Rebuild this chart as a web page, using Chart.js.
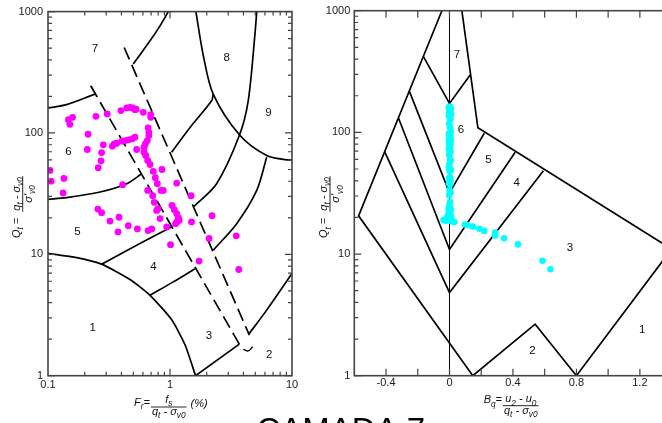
<!DOCTYPE html>
<html>
<head>
<meta charset="utf-8">
<script src="https://cdn.jsdelivr.net/npm/chart.js@4.4.1/dist/chart.umd.min.js"></script>
<style>
html, body { margin: 0; padding: 0; background: #fff; overflow: hidden; width: 662px; height: 423px; }
canvas { position: absolute; left: 0; top: 0; }
</style>
</head>
<body>
<canvas id="frChart" width="680" height="423"></canvas>
<canvas id="bqChart" width="680" height="423"></canvas>
<script>
// ---- axes ----
const frTicks = [0.1, 1, 10];
const qtTicks = [1, 10, 100, 1000];
const frMinor = [0.2, 0.3, 0.4, 0.5, 0.6, 0.7, 0.8, 0.9, 2, 3, 4, 5, 6, 7, 8, 9];
const qtMinor = [2, 3, 4, 5, 6, 7, 8, 9, 20, 30, 40, 50, 60, 70, 80, 90, 200, 300, 400, 500, 600, 700, 800, 900];
const bqTicks = [-0.4, 0, 0.4, 0.8, 1.2];
const bqMinor = [-0.2, 0.2, 0.6, 1.0];

// ---- CPT data, camada 7 ----
const frData = [0.104, 0.106, 0.135, 0.133, 0.147, 0.159, 0.151, 0.213, 0.210, 0.247,
  0.306, 0.396, 0.442, 0.470, 0.494, 0.516, 0.527, 0.604, 0.695, 0.695,
  0.661, 0.671, 0.671, 0.652, 0.628, 0.612, 0.516, 0.491, 0.458, 0.428,
  0.402, 0.366, 0.349, 0.337, 0.284, 0.275, 0.533, 0.612, 0.632, 0.656,
  0.686, 0.272, 0.258, 0.730, 0.859, 0.758, 0.787, 0.844, 0.656, 0.721,
  0.743, 0.778, 0.828, 0.881, 0.409, 1.038, 1.084, 1.135, 1.17, 1.19,
  1.14, 1.11, 0.94, 1.49, 1.50, 0.256, 0.275, 0.322, 0.382, 0.375,
  0.455, 0.540, 0.661, 0.708, 1.01, 1.73, 2.21, 2.09, 3.49, 3.66,
  0.797, 1.135];
const qtData = [49.1, 40.1, 42.2, 32.0, 128.8, 134.6, 117.9, 97.6, 73.1, 137.1,
  143.5, 152.8, 160.8, 162.5, 160.8, 155.7, 157, 148, 141.7, 134.6,
  110.2, 101.3, 95.2, 86.6, 81.3, 76.3, 92.2, 89.5, 87.8, 86.6,
  85.5, 82.3, 81.3, 77.8, 79.8, 69.0, 73.1, 69.4, 65.2, 59.3,
  55.0, 59.0, 51.7, 48.2, 50.0, 42.8, 38.2, 33.6, 33.6, 30.4,
  26.8, 23.0, 19.7, 33.6, 37.5, 25.3, 23.3, 21.6, 20.1, 19.1,
  18.5, 17.9, 16.8, 30.4, 18.5, 23.6, 22.0, 18.8, 20.2, 15.3,
  17.2, 16.2, 15.7, 16.2, 12.0, 8.8, 20.8, 13.5, 14.2, 7.5,
  23.8, 38.6];

const bqData = [0.004, -0.004, 0.008, 0.000, 0.006, -0.002, 0.004, 0.010, -0.004, 0.002,
  0.006, -0.002, 0.004, 0.008, -0.004, 0.002, 0.006, 0.000, 0.004, -0.004,
  0.008, 0.002, -0.002, 0.006, 0.000, 0.004, -0.004, 0.006, 0.002, -0.002,
  0.004, 0.008, 0.000, -0.004, 0.004, 0.008, 0.000, 0.004, -0.002, 0.006,
  0.002, -0.004, 0.004, 0.000, 0.006, -0.002, 0.004, 0.000, 0.006, -0.006,
  0.002, 0.008, -0.004, 0.004, -0.010, 0.010, -0.002, -0.016, 0.012, -0.038,
  0.004, 0.030, -0.020, 0.018,
  0.097, 0.110, 0.147, 0.189, 0.219, 0.288, 0.288, 0.344, 0.431, 0.586, 0.636];
const qtBData = [162.5, 160.8, 157, 155.7, 152.8, 148, 143.5, 141.7, 137.1, 134.6,
  128.8, 117.9, 110.2, 101.3, 97.6, 95.2, 92.2, 89.5, 87.8, 86.6,
  85.5, 82.3, 81.3, 79.8, 77.8, 76.3, 73.1, 69.4, 69.0, 65.2,
  59.3, 59.0, 55.0, 51.7, 50.0, 49.1, 48.2, 42.8, 42.2, 40.1,
  38.6, 38.2, 37.5, 33.6, 32.0, 30.4, 26.8, 25.3, 23.8, 23.6,
  23.3, 23.0, 22.0, 21.6, 20.8, 20.2, 20.1, 19.7, 19.1, 19.0,
  18.9, 18.3, 18.8, 18.5,
  17.5, 17.3, 16.8, 16.1, 15.5, 15.0, 14.2, 13.5, 12.0, 8.8, 7.5];

// ---- Robertson (1990) zone boundaries, Fr chart ----
const frZone1 = [[0.1, 10.2], [0.172, 9.4], [0.275, 8.3], [0.47, 6.2], [0.686, 4.6], [1.03, 2.9], [1.33, 1.79], [1.62, 1.0]];
const frZone3Base = [[1.62, 1.0], [3.70, 1.82]];
const frZone34 = [[0.686, 4.6], [1.065, 5.93], [1.6, 7.6]];
const frZone45 = [[0.275, 8.3], [0.533, 11.9], [1.03, 16.8]];
const frZone56 = [[0.1, 28.4], [0.142, 29.3], [0.267, 32.6], [0.442, 38.2], [0.586, 46.1]];
const frZone67 = [[0.1, 160.8], [0.142, 171], [0.243, 209]];
const frZone7 = [[0.5, 370], [0.686, 574], [0.828, 763], [0.969, 1000]];
const frZone8a = [[1.03, 69.4], [1.46, 111], [2.20, 185], [2.26, 209]];
const frZone8b = [[1.57, 24.8], [2.41, 38.2], [3.70, 95.2], [4.38, 185], [4.97, 652], [5.14, 1000]];
const frZone89 = [[1.63, 1000], [1.87, 440], [2.26, 209], [3.75, 95.2], [6.2, 65.2], [9.05, 60.1], [10, 60.1]];
const frZone9Base = [[6.2, 63.1], [5.14, 33.6], [3.52, 17.9], [2.26, 10.8]];
const frZone2 = [[4.47, 2.23], [6.2, 3.47], [10, 6.95]];
const frHook = [[3.99, 1.65], [4.38, 1.60], [4.76, 1.73]];
const frDash1 = [[0.224, 245], [3.70, 1.82]];
const frDash2 = [[0.421, 506], [4.47, 2.16]];

const frZoneNames = ['1', '2', '3', '4', '5', '6', '7', '8', '9'];
const frZoneX = [0.232, 6.5, 2.09, 0.73, 0.174, 0.147, 0.243, 2.92, 6.4];
const frZoneY = [2.48, 1.48, 2.13, 7.9, 15.3, 70, 491, 419, 146];

// ---- zone boundaries, Bq chart ----
const bqOuterLeft = [[-0.048, 1000], [-0.573, 20.6], [0.147, 1]];
const bqBottom = [[0.147, 1], [0.540, 2.65], [0.8, 1], [1.4, 11]];
const bqOuterRight = [[0.078, 1000], [0.179, 109], [1.4, 11]];
const bqZone7 = [[-0.164, 419], [0, 173], [0.130, 296]];
const bqZone6 = [[-0.252, 216], [0, 31.8], [0.219, 98.3]];
const bqZone5 = [[-0.321, 130.6], [0, 10.9], [0.414, 68.6]];
const bqZone4 = [[-0.409, 69.4], [0, 4.82], [0.592, 48.4]];
const bqZero = [[0, 1], [0, 1000]];

const bqZoneNames = ['1', '2', '3', '4', '5', '6', '7'];
const bqZoneX = [1.215, 0.523, 0.760, 0.424, 0.246, 0.072, 0.047];
const bqZoneY = [2.38, 1.60, 11.3, 38.6, 59.3, 105, 432];

const FONT = '"Liberation Sans", Arial, sans-serif';

function pts(list) {
    return list.map(p => ({ x: p[0], y: p[1] }));
}

function boundary(list, opts) {
    opts = opts || {};
    return {
        data: pts(list),
        showLine: true,
        borderColor: '#000',
        borderWidth: opts.width || 1.7,
        borderDash: opts.dash || [],
        tension: opts.tension || 0,
        pointRadius: 0,
        fill: false,
        order: 1
    };
}

function textRun(ctx, parts, size, x, y, measureOnly) {
    let w = 0;
    parts.forEach(p => {
        const sub = p[1] === 's';
        ctx.font = 'italic ' + (sub ? size * 0.75 : size) + 'px ' + FONT;
        if (!measureOnly) ctx.fillText(p[0], x + w, y + (sub ? size * 0.3 : 0));
        w += ctx.measureText(p[0]).width;
    });
    return w;
}

// fraction axis title; (x, y) = start of the fraction bar
function drawFraction(ctx, o) {
    ctx.save();
    ctx.translate(o.x, o.y);
    if (o.rotate) ctx.rotate(-Math.PI / 2);
    ctx.fillStyle = '#111';
    ctx.strokeStyle = '#111';
    ctx.lineWidth = 0.9;
    ctx.textAlign = 'left';
    ctx.textBaseline = 'alphabetic';
    const s = o.size;
    const lw = textRun(ctx, o.lead, s, 0, 0, true);
    textRun(ctx, o.lead, s, -lw - o.gap, o.leadBase);
    const nw = textRun(ctx, o.num, s, 0, 0, true);
    const dw = textRun(ctx, o.den, s, 0, 0, true);
    const bw = Math.max(nw, dw) + 2;
    ctx.beginPath();
    ctx.moveTo(0, 0);
    ctx.lineTo(bw, 0);
    ctx.stroke();
    textRun(ctx, o.num, s, (bw - nw) / 2, o.numBase);
    textRun(ctx, o.den, s, (bw - dw) / 2, o.denBase);
    if (o.trail) textRun(ctx, o.trail, s, bw + o.trailGap, o.trailBase);
    ctx.restore();
}

const qtTitle = {
    lead: [['Q', 'n'], ['t', 's'], [' = ', 'n']],
    num: [['q', 'n'], ['t', 's'], [' - \u03c3', 'n'], ['v0', 's']],
    den: [['\u03c3\'', 'n'], ['v0', 's']],
    size: 11, gap: 3, leadBase: -2.7, numBase: -3.2, denBase: 9.3, rotate: true
};

function framePlugin(cfg) {
    return {
        id: 'frame_' + cfg.name,
        afterDatasetsDraw(chart) {
            const { ctx, chartArea: a, scales: { x, y } } = chart;
            ctx.save();
            // zone numbers
            ctx.fillStyle = '#111';
            ctx.font = '11.5px ' + FONT;
            ctx.textAlign = 'center';
            ctx.textBaseline = 'middle';
            cfg.zoneNames.forEach((t, i) => {
                ctx.fillText(t, x.getPixelForValue(cfg.zoneX[i]), y.getPixelForValue(cfg.zoneY[i]));
            });
            // frame
            ctx.strokeStyle = '#444';
            ctx.lineWidth = 1.6;
            ctx.strokeRect(a.left, a.top, a.right - a.left, a.bottom - a.top);
            // inward ticks
            ctx.lineWidth = 1.2;
            ctx.beginPath();
            const xt = (v, len) => {
                const p = x.getPixelForValue(v);
                ctx.moveTo(p, a.bottom); ctx.lineTo(p, a.bottom - len);
                ctx.moveTo(p, a.top); ctx.lineTo(p, a.top + len);
            };
            const yt = (v, len) => {
                const p = y.getPixelForValue(v);
                ctx.moveTo(a.left, p); ctx.lineTo(a.left + len, p);
                ctx.moveTo(a.right, p); ctx.lineTo(a.right - len, p);
            };
            cfg.xMajor.forEach(v => xt(v, cfg.xMajorLen));
            cfg.xMinor.forEach(v => xt(v, cfg.xMinorLen));
            qtTicks.forEach(v => yt(v, 7));
            qtMinor.forEach(v => yt(v, 4));
            ctx.stroke();
            ctx.restore();
            cfg.titles(ctx);
        }
    };
}

function baseOptions(padLeft, padRight, yWidth, xType, xMin, xMax, xTicks, xPad, yPad) {
    const tickFont = { family: FONT, size: 11 };
    return {
        responsive: false,
        animation: false,
        devicePixelRatio: 1,
        events: [],
        layout: { padding: { top: 10.7, left: padLeft, right: padRight, bottom: 0 } },
        plugins: { legend: { display: false }, tooltip: { enabled: false } },
        scales: {
            x: {
                type: xType, min: xMin, max: xMax,
                grid: { display: false, drawTicks: false },
                border: { display: false },
                afterBuildTicks: s => { s.ticks = xTicks.map(v => ({ value: v })); },
                afterFit: s => { s.height = 47.3; },
                ticks: { callback: v => String(v), color: '#222', font: tickFont, padding: xPad, maxRotation: 0, autoSkip: false }
            },
            y: {
                type: 'logarithmic', min: 1, max: 1000,
                grid: { display: false, drawTicks: false },
                border: { display: false },
                afterBuildTicks: s => { s.ticks = qtTicks.map(v => ({ value: v })); },
                afterFit: s => { s.width = yWidth; },
                ticks: { callback: v => String(v), color: '#222', font: tickFont, padding: yPad, autoSkip: false }
            }
        }
    };
}

// ---- left chart ----
new Chart(document.getElementById('frChart'), {
    type: 'scatter',
    data: {
        datasets: [
            {
                data: frData.map((v, i) => ({ x: v, y: qtData[i] })),
                backgroundColor: '#ff00ff',
                borderColor: '#ff00ff',
                pointRadius: 3.4,
                borderWidth: 0,
                order: 0
            },
            boundary(frZone1, { tension: 0.2 }),
            boundary(frZone3Base),
            boundary(frZone34, { tension: 0.3 }),
            boundary(frZone45, { tension: 0.3 }),
            boundary(frZone56, { tension: 0.3 }),
            boundary(frZone67, { tension: 0.3 }),
            boundary(frZone7, { tension: 0.3 }),
            boundary(frZone8a, { tension: 0.3 }),
            boundary(frZone8b, { tension: 0.3 }),
            boundary(frZone89, { tension: 0.3 }),
            boundary(frZone9Base, { tension: 0.3 }),
            boundary(frZone2, { tension: 0.3 }),
            boundary(frHook, { tension: 0.4, width: 1.4 }),
            boundary(frDash1, { dash: [13, 6] }),
            boundary(frDash2, { dash: [13, 6] })
        ]
    },
    options: baseOptions(0, 388, 48, 'logarithmic', 0.1, 10, frTicks, 3, 5),
    plugins: [framePlugin({
        name: 'fr',
        zoneNames: frZoneNames, zoneX: frZoneX, zoneY: frZoneY,
        xMajor: [1], xMajorLen: 7, xMinor: frMinor, xMinorLen: 4,
        titles: ctx => {
            drawFraction(ctx, {
                x: 151, y: 407, size: 11, gap: 1,
                lead: [['F', 'n'], ['r', 's'], ['=', 'n']], leadBase: -1,
                num: [['f', 'n'], ['s', 's']], numBase: -4.5,
                den: [['q', 'n'], ['t', 's'], [' - \u03c3', 'n'], ['v0', 's']], denBase: 7.5,
                trail: [['(%)', 'n']], trailGap: 4, trailBase: -0.5
            });
            drawFraction(ctx, Object.assign({ x: 22.7, y: 211.7 }, qtTitle));
            ctx.save();
            ctx.fillStyle = '#000';
            ctx.font = '33px ' + FONT;
            ctx.textAlign = 'left';
            ctx.textBaseline = 'alphabetic';
            ctx.fillText('CAMADA 7', 256.5, 441.3);
            ctx.restore();
        }
    })]
});

// ---- right chart ----
new Chart(document.getElementById('bqChart'), {
    type: 'scatter',
    data: {
        datasets: [
            {
                data: bqData.map((v, i) => ({ x: v, y: qtBData[i] })),
                backgroundColor: '#00ffff',
                borderColor: '#00ffff',
                pointRadius: 3.3,
                borderWidth: 0,
                order: 0
            },
            boundary(bqZero, { width: 1 }),
            boundary(bqOuterLeft),
            boundary(bqBottom),
            boundary(bqOuterRight),
            boundary(bqZone7),
            boundary(bqZone6),
            boundary(bqZone5),
            boundary(bqZone4)
        ]
    },
    options: baseOptions(300, 8.4, 54.3, 'linear', -0.6, 1.4, bqTicks, 1, 4),
    plugins: [framePlugin({
        name: 'bq',
        zoneNames: bqZoneNames, zoneX: bqZoneX, zoneY: bqZoneY,
        xMajor: bqTicks, xMajorLen: 7, xMinor: bqMinor, xMinorLen: 7,
        titles: ctx => {
            drawFraction(ctx, {
                x: 503, y: 405.7, size: 11, gap: 1,
                lead: [['B', 'n'], ['q', 's'], ['=', 'n']], leadBase: -2.4,
                num: [['u', 'n'], ['2', 's'], [' - u', 'n'], ['0', 's']], numBase: -3.4,
                den: [['q', 'n'], ['t', 's'], [' - \u03c3', 'n'], ['v0', 's']], denBase: 8.3
            });
            drawFraction(ctx, Object.assign({ x: 330, y: 211.7 }, qtTitle));
        }
    })]
});
</script>
</body>
</html>
